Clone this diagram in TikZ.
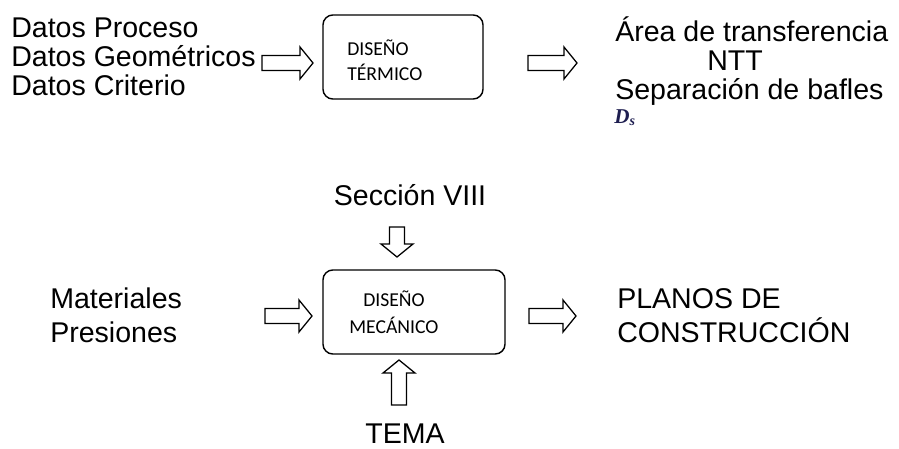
\documentclass[tikz,border=0pt]{standalone}
\usepackage{fontspec}
\setmainfont{Liberation Sans}
\newfontfamily\calibri{Carlito}
\newfontfamily\eqfont{Liberation Serif}
\definecolor{dsblue}{RGB}{30,30,80}

\tikzset{
    txt/.style={anchor=base west, inner sep=0pt, font=\fontsize{20.3}{24}\selectfont},
    boxtxt/.style={anchor=base west, inner sep=0pt, font=\calibri\fontsize{14}{16}\selectfont},
    designbox/.style={draw, line width=1pt, rounded corners=7pt, minimum height=2.1cm},
    pics/bigarrow/.style={code={
        \draw[line width=0.9pt, line join=miter] (0,-7.5) -- ({#1-13},-7.5) -- ({#1-13},-16)
            -- (#1,0) -- ({#1-13},16) -- ({#1-13},7.5) -- (0,7.5) -- cycle;
    }}
}

\begin{document}
\begin{tikzpicture}[x=0.025cm, y=-0.025cm]
    \useasboundingbox (0,0) rectangle (899,448);

    % thermal design
    \node[txt] (proceso) at (11,37) {Datos Proceso};
    \node[txt] (geom) at (11,66) {Datos Geométricos};
    \node[txt] (criterio) at (11,95) {Datos Criterio};
    \pic at (262,63) {bigarrow=51};
    \node[designbox, minimum width=4cm] (termico) at (403,57) {};
    \node[boxtxt] (dis1) at (347,55) {DISEÑO};
    \node[boxtxt] (term) at (347,80) {TÉRMICO};
    \pic at (528,63) {bigarrow=49};
    \node[txt] (area) at (615,41) {Área de transferencia};
    \node[txt] (ntt) at (707,70) {NTT};
    \node[txt] (bafles) at (615,99) {Separación de bafles};
    \node[anchor=base west, inner sep=0pt, text=dsblue, font=\eqfont\bfseries\itshape\fontsize{15}{17}\selectfont] (ds) at (614,123) {D\raisebox{-0.3ex}{\fontsize{10}{12}\selectfont s}};

    % mechanical design
    \node[txt, anchor=base] (seccion) at (410,205) {Sección VIII};
    \pic[rotate=-90] at (397,227) {bigarrow=30};
    \node[designbox, minimum width=4.55cm] (mecanico) at (414,312) {};
    \node[boxtxt] (dis2) at (363,306) {DISEÑO};
    \node[boxtxt] (mec) at (349,333) {MECÁNICO};
    \pic[rotate=90] at (399,405) {bigarrow=45};
    \node[txt, anchor=base] (tema) at (405,443) {TEMA};
    \node[txt] (mat) at (50,308) {Materiales};
    \node[txt] (pres) at (50,342) {Presiones};
    \pic at (265,316) {bigarrow=47};
    \pic at (529,316) {bigarrow=47};
    \node[txt] (planos) at (617,308) {PLANOS DE};
    \node[txt] (constr) at (617,342) {CONSTRUCCIÓN};
\end{tikzpicture}
\end{document}
